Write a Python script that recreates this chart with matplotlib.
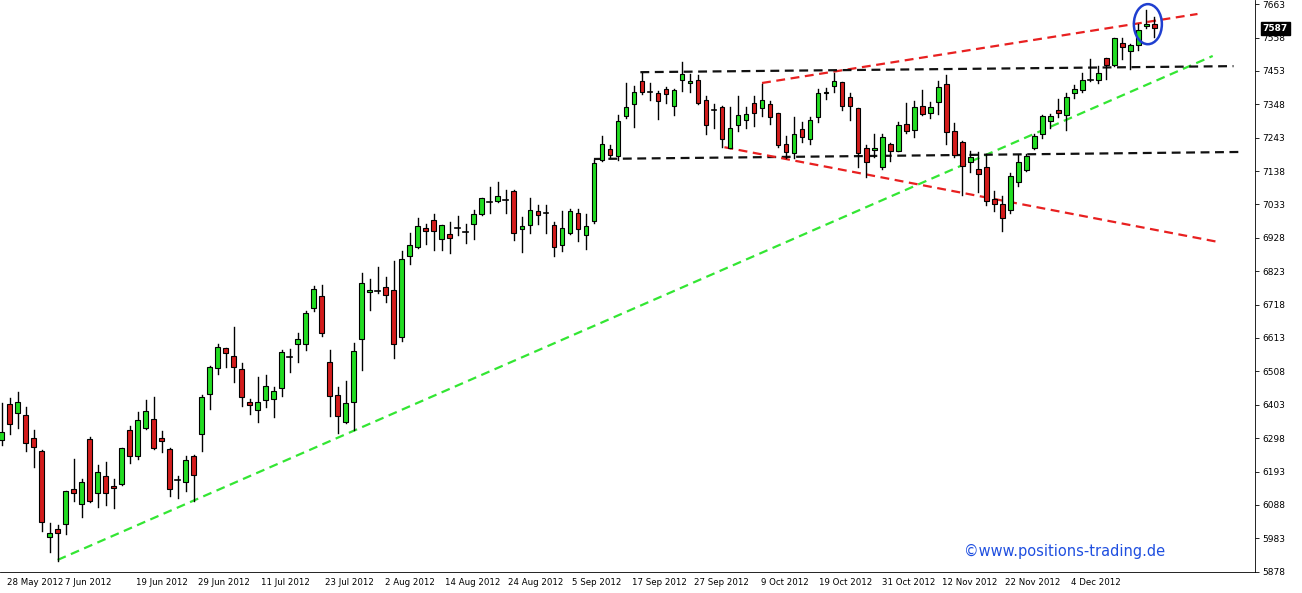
import matplotlib
matplotlib.use("Agg")
import matplotlib.pyplot as plt
from matplotlib.patches import Rectangle, Ellipse
import numpy as np

opens = [6292,6406,6376,6370,6299,6258,5986,6012,6027,6137,6090,6296,6125,6179,6148,6154,6324,6243,6331,6357,
         6299,6265,6165,6159,6242,6312,6436,6518,6581,6556,6516,6412,6386,6417,6422,6457,6554,6593,6593,6706,
         6744,6536,6433,6350,6411,6609,6757,6762,6772,6764,6615,6870,6900,6958,6983,6923,6939,6958,6945,6973,
         7003,7042,7043,7047,7074,6955,6967,7011,7007,6968,6904,6942,7005,6936,6982,7173,7206,7186,7310,7348,
         7420,7388,7385,7395,7344,7423,7414,7423,7363,7330,7341,7212,7282,7298,7351,7335,7348,7322,7222,7194,
         7269,7238,7307,7382,7407,7417,7370,7335,7212,7203,7152,7222,7200,7285,7266,7344,7322,7354,7411,7263,
         7228,7167,7143,7150,7051,7035,7015,7104,7140,7212,7253,7294,7330,7313,7385,7392,7423,7423,7495,7470,
         7542,7517,7533,7594,7599]
highs = [6408,6423,6443,6395,6324,6261,6030,6025,6131,6233,6170,6301,6214,6223,6170,6267,6336,6380,6418,6427,
         6320,6267,6180,6242,6244,6434,6525,6593,6581,6649,6533,6421,6489,6497,6458,6574,6578,6629,6697,6776,
         6780,6575,6459,6478,6597,6816,6798,6836,6805,6856,6886,6942,6989,6973,7003,6967,6978,6997,6973,7017,
         7052,7087,7105,7078,7080,6994,7052,7031,7031,6979,7011,7019,7019,7003,7173,7248,7220,7314,7414,7406,
         7445,7414,7391,7403,7397,7480,7443,7439,7374,7349,7344,7338,7374,7338,7374,7412,7357,7322,7248,7307,
         7291,7307,7395,7398,7445,7417,7382,7335,7219,7256,7256,7225,7292,7351,7357,7392,7354,7420,7439,7288,
         7234,7200,7199,7191,7076,7059,7131,7188,7193,7253,7313,7316,7364,7384,7410,7445,7490,7468,7495,7555,
         7555,7539,7602,7643,7621]
lows = [6277,6310,6331,6259,6206,6007,5941,5913,5996,6099,6051,6096,6083,6089,6078,6151,6221,6232,6327,6264,
        6253,6117,6109,6132,6099,6259,6391,6501,6523,6474,6400,6373,6348,6397,6364,6432,6507,6539,6575,6699,
        6620,6369,6314,6347,6324,6512,6701,6753,6727,6551,6605,6847,6897,6909,6891,6891,6881,6938,6911,6925,
        7000,7007,7042,7005,6921,6884,6944,6973,6944,6871,6888,6940,6919,6892,6976,7169,7183,7173,7306,7277,
        7379,7361,7303,7353,7313,7391,7387,7349,7255,7275,7214,7209,7264,7272,7281,7312,7285,7215,7180,7180,
        7230,7222,7293,7366,7387,7329,7300,7152,7120,7183,7146,7171,7200,7259,7244,7313,7304,7319,7222,7183,
        7062,7136,7073,7030,7011,6948,7005,7092,7137,7206,7243,7272,7307,7266,7369,7388,7420,7414,7426,7468,
        7489,7458,7520,7587,7560]
closes = [6317,6342,6411,6282,6271,6034,5999,5999,6131,6125,6159,6099,6191,6125,6140,6267,6243,6355,6384,6266,
          6288,6137,6165,6230,6181,6427,6522,6585,6565,6521,6427,6401,6412,6461,6446,6568,6554,6609,6691,6767,
          6630,6432,6369,6408,6571,6785,6763,6762,6747,6593,6863,6907,6964,6948,6948,6967,6929,6958,6945,7002,
          7052,7042,7061,7047,6942,6964,7017,6999,7007,6900,6958,7011,6955,6964,7162,7224,7190,7297,7338,7386,
          7388,7388,7357,7379,7392,7442,7420,7351,7282,7330,7238,7272,7313,7319,7322,7363,7307,7219,7197,7256,
          7244,7300,7385,7388,7420,7344,7344,7194,7165,7212,7244,7200,7282,7263,7341,7316,7341,7401,7260,7190,
          7153,7183,7128,7043,7035,6989,7124,7168,7186,7248,7310,7310,7322,7372,7395,7423,7423,7445,7470,7555,
          7527,7533,7583,7600,7587]

date_labels = ["28 May 2012","7 Jun 2012","19 Jun 2012","29 Jun 2012","11 Jul 2012","23 Jul 2012",
               "2 Aug 2012","14 Aug 2012","24 Aug 2012","5 Sep 2012","17 Sep 2012","27 Sep 2012",
               "9 Oct 2012","19 Oct 2012","31 Oct 2012","12 Nov 2012","22 Nov 2012","4 Dec 2012"]
date_pos = [4.2,10.8,20.0,27.8,35.5,43.4,51.0,58.8,66.7,74.4,82.2,89.9,97.8,105.5,113.3,121.0,128.8,136.7]
price_ticks = [5878,5983,6088,6193,6298,6403,6508,6613,6718,6823,6928,7033,7138,7243,7348,7453,7558,7663]

# trend lines: (x0, p0, x1, p1)
trend_lines = [
    ((7.0, 5915, 151.3, 7500), "#33e633"),
    ((95.0, 7415, 149.4, 7632), "#e82020"),
    ((79.8, 7449, 153.9, 7468), "#111111"),
    ((74.0, 7176, 154.5, 7198), "#111111"),
    ((90.3, 7213, 152.0, 6915), "#e82020"),
]

fig = plt.figure(figsize=(13.02, 5.93), dpi=100)
ax = fig.add_axes([0.0, 0.0354, 0.964, 0.9646])

for (x0, p0, x1, p1), c in trend_lines:
    ax.plot([x0, x1], [p0, p1], color=c, lw=1.6, ls=(0, (4, 2.5)), zorder=1)

w = 0.6
for i, (o, h, l, c) in enumerate(zip(opens, highs, lows, closes)):
    ax.plot([i, i], [l, h], color="black", lw=1.0, zorder=2)
    if abs(c - o) < 2:
        ax.plot([i - w/2, i + w/2], [o, o], color="black", lw=1.2, zorder=3)
    else:
        col = "#22dd22" if c > o else "#d41c1c"
        ax.add_patch(Rectangle((i - w/2, min(o, c)), w, abs(c - o), facecolor=col,
                               edgecolor="black", lw=0.8, zorder=3))

ax.add_patch(Ellipse((143.2, 7600), 3.5, 126, fill=False, edgecolor="#1f3fd0", lw=1.8, zorder=4))

ax.set_xlim(-0.2, 156.6)
ax.set_ylim(5877, 7676)
ax.yaxis.tick_right()
ax.set_yticks(price_ticks)
ax.set_yticklabels([str(t) for t in price_ticks], fontsize=6.5)
ax.set_xticks(date_pos)
ax.set_xticklabels(date_labels, fontsize=6.2)
ax.tick_params(axis="y", length=3, width=0.6, pad=2)
ax.tick_params(axis="x", length=0, pad=4)
for s in ["top", "left"]:
    ax.spines[s].set_visible(False)
ax.spines["right"].set_linewidth(0.6)
ax.spines["bottom"].set_linewidth(0.6)

last = closes[-1]
ax.text(1.006, (last - 5877) / (7676 - 5877), str(last), transform=ax.transAxes, fontsize=6.5,
        color="white", fontweight="bold", va="center", ha="left",
        bbox=dict(boxstyle="square,pad=0.2", fc="black", ec="black"), zorder=5)

ax.text(0.848, 0.035, "©www.positions-trading.de", transform=ax.transAxes, fontsize=10.5,
        color="#1f4fe0", ha="center", va="center")

fig.savefig("out.png", dpi=100)
